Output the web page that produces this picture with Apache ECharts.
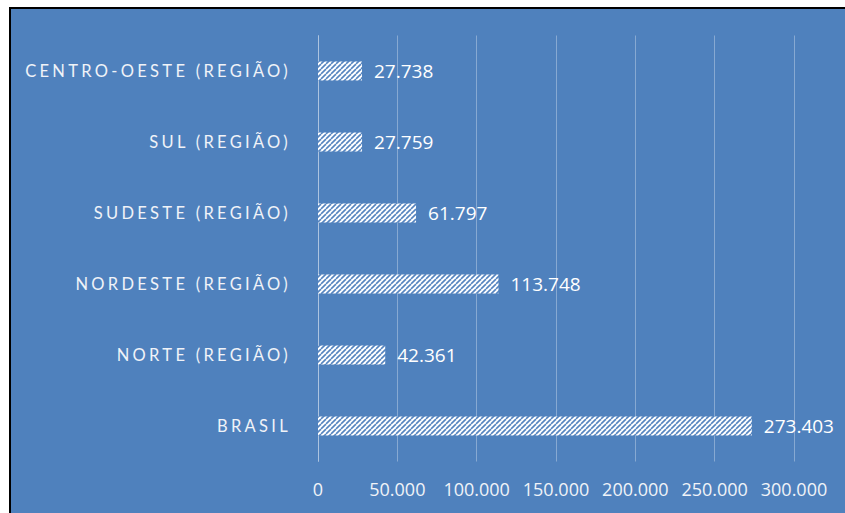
<!DOCTYPE html>
<html>
<head>
<meta charset="utf-8">
<script src="https://cdn.jsdelivr.net/npm/echarts@6/dist/echarts.min.js"></script>
<style>
  html, body { margin: 0; padding: 0; background: #ffffff; }
  #chart { position: absolute; left: 9px; top: 7px; width: 834px; height: 504px;
           border-left: 2px solid #000; border-top: 2px solid #000; background: #4f81bd; }
  #chart text[style*="Lato"], #chart text[font-family*="Lato"] { letter-spacing: 3.3px; }
</style>
</head>
<body>
<div id="chart"></div>
<script>
// Data (bottom to top on the chart)
const categories = ['BRASIL', 'NORTE (REGIÃO)', 'NORDESTE (REGIÃO)', 'SUDESTE (REGIÃO)', 'SUL (REGIÃO)', 'CENTRO-OESTE (REGIÃO)'];
const values = [273403, 42361, 113748, 61797, 27759, 27738];
const xTicks = [0, 50000, 100000, 150000, 200000, 250000, 300000];

function fmt(v) {
  return String(v).replace(/\B(?=(\d{3})+(?!\d))/g, '.');
}

// hatch pattern
const pc = document.createElement('canvas');
pc.width = 5; pc.height = 5;
const px = pc.getContext('2d');
px.fillStyle = '#ffffff';
px.fillRect(0, 0, 5, 5);
px.strokeStyle = '#5685c0';
px.lineWidth = 1.6;
for (let o = -5; o <= 5; o += 5) {
  px.beginPath();
  px.moveTo(o, 5);
  px.lineTo(o + 5, 0);
  px.stroke();
}
const patternSrc = pc.toDataURL();

const chart = echarts.init(document.getElementById('chart'), null, { renderer: 'svg' });
chart.setOption({
  backgroundColor: '#4f81bd',
  animation: false,
  grid: { left: 307, right: 51, top: 26.5, bottom: 51.5 },
  xAxis: {
    type: 'value',
    min: 0, max: 300000, interval: 50000,
    axisLine: { show: false },
    axisTick: { show: false },
    splitLine: { show: true, lineStyle: { color: 'rgba(255,255,255,0.32)', width: 1 } },
    axisLabel: {
      color: '#f0f3f8', fontFamily: 'Open Sans', fontSize: 18, margin: 18,
      formatter: function (v) { return xTicks.indexOf(v) >= 0 ? fmt(v) : ''; }
    }
  },
  yAxis: {
    type: 'category',
    data: categories,
    axisLine: { show: true, lineStyle: { color: 'rgba(255,255,255,0.32)', width: 1 } },
    axisTick: { show: false },
    axisLabel: { color: '#f0f3f8', fontFamily: 'Lato', fontSize: 16.5, margin: 27 }
  },
  series: [{
    type: 'bar',
    data: values,
    barWidth: 19,
    itemStyle: { color: { image: patternSrc, repeat: 'repeat' } },
    label: {
      show: true, position: 'right', distance: 12,
      color: '#ffffff', fontFamily: 'Open Sans', fontSize: 19,
      formatter: function (p) { return fmt(p.value); }
    }
  }]
});
</script>
</body>
</html>
